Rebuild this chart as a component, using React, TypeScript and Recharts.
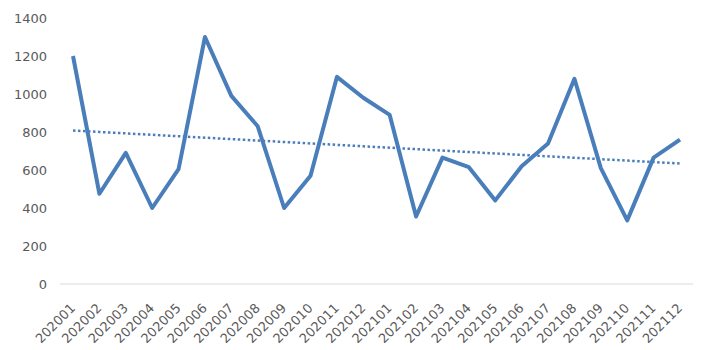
import React from 'react';
import { LineChart, Line, XAxis, YAxis } from 'recharts';

const categories = [
  '202001', '202002', '202003', '202004', '202005', '202006',
  '202007', '202008', '202009', '202010', '202011', '202012',
  '202101', '202102', '202103', '202104', '202105', '202106',
  '202107', '202108', '202109', '202110', '202111', '202112',
];

const values = [
  1200, 475, 690, 400, 605, 1300,
  990, 830, 400, 570, 1090, 980,
  890, 355, 665, 615, 440, 620,
  740, 1080, 610, 335, 665, 760,
];

const yTicks = [0, 200, 400, 600, 800, 1000, 1200, 1400];

// Linear trend line (least squares regression of the values)
const n = values.length;
const meanX = (n - 1) / 2;
const meanY = values.reduce((a, b) => a + b, 0) / n;
let sxy = 0;
let sxx = 0;
values.forEach((v, i) => {
  sxy += (i - meanX) * (v - meanY);
  sxx += (i - meanX) * (i - meanX);
});
const slope = sxy / sxx;
const intercept = meanY - slope * meanX;

const data = categories.map((c, i) => ({
  name: c,
  value: values[i],
  trend: intercept + slope * i,
}));

const FONT = '"DejaVu Sans", sans-serif';
const LINE_COLOR = '#4A7EBB';
const AXIS_Y = 284;

const renderXTick = (props: any) => {
  const { x, payload } = props;
  const tx = x + 3;
  const ty = AXIS_Y + 25;
  return (
    <g key={`xt-${payload.value}`}>
      <text
        x={tx}
        y={ty}
        transform={`rotate(-45 ${tx} ${ty})`}
        textAnchor="end"
        fill="#595959"
        fontSize={13}
        fontFamily={FONT}
      >
        {payload.value}
      </text>
    </g>
  );
};

export default function App() {
  return (
    <div style={{ position: 'absolute', left: 0, top: 0, width: 705, height: 350, background: '#fff' }}>
      <LineChart
        width={705}
        height={350}
        data={data}
        margin={{ top: 18, right: 12, left: 0, bottom: 0 }}
      >
        <XAxis
          dataKey="name"
          interval={0}
          height={66}
          padding={{ left: 13, right: 13 }}
          tickLine={false}
          tickSize={0}
          tickMargin={0}
          axisLine={{ stroke: '#d9d9d9', strokeWidth: 1 }}
          tick={renderXTick}
        />
        <YAxis
          width={60}
          domain={[0, 1400]}
          ticks={yTicks}
          axisLine={false}
          tickLine={false}
          tickSize={0}
          tickMargin={13}
          tick={{ fill: '#595959', fontSize: 13, fontFamily: FONT }}
        />
        <Line
          type="linear"
          dataKey="value"
          stroke={LINE_COLOR}
          strokeWidth={4}
          dot={false}
          activeDot={false}
          isAnimationActive={false}
          strokeLinejoin="round"
        />
        <Line
          type="linear"
          dataKey="trend"
          stroke={LINE_COLOR}
          strokeWidth={2.5}
          strokeDasharray="2.5 2.5"
          dot={false}
          activeDot={false}
          isAnimationActive={false}
        />
      </LineChart>
    </div>
  );
}
